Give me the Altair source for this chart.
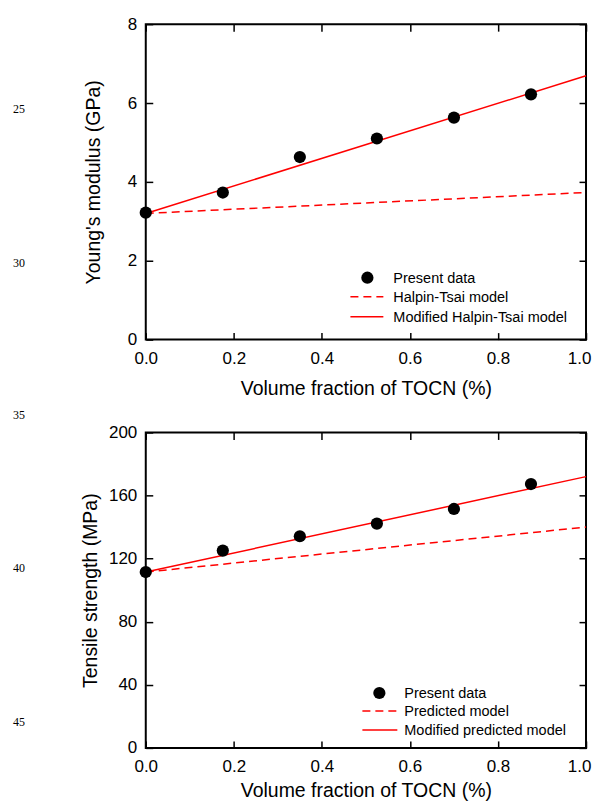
import altair as alt
import pandas as pd

# ---- data ----
tocn_fraction = [0.0, 0.175, 0.35, 0.525, 0.70, 0.875]
youngs_modulus = [3.22, 3.73, 4.63, 5.10, 5.63, 6.22]
tensile_strength = [111.5, 125.1, 134.2, 142.2, 151.5, 167.3]

model_x = [0.0, 1.0]
halpin_tsai = [3.20, 3.73]
modified_halpin_tsai = [3.20, 6.69]
predicted = [111.5, 140.0]
modified_predicted = [111.5, 172.0]

x_ticks = [0.0, 0.2, 0.4, 0.6, 0.8, 1.0]
y_ticks_top = [0, 2, 4, 6, 8]
y_ticks_bottom = [0, 40, 80, 120, 160, 200]

legend_top = ["Present data", "Halpin-Tsai model", "Modified Halpin-Tsai model"]
legend_bottom = ["Present data", "Predicted model", "Modified predicted model"]
line_numbers_top = ["25", "30"]
line_numbers_bottom = ["35", "40", "45"]

SANS = "Liberation Sans"
SERIF = "Liberation Serif"
W, H = 441, 316
RED = "#ff0000"
DASH = [8, 5]


def panel(yvals, model_a, model_b, ytitle, ydomain, yticks, legend_labels,
          sym_x, text_x, line_x1, line_x2, rows, ytitle_x, xtitle_y,
          line_nums, line_num_y):
    pts = pd.DataFrame({"x": tocn_fraction, "y": yvals})
    dashed = pd.DataFrame({"x": model_x, "y": model_a})
    solid = pd.DataFrame({"x": model_x, "y": model_b})

    xs = alt.Scale(domain=[0, 1], nice=False, zero=False)
    ys = alt.Scale(domain=ydomain, nice=False, zero=False)

    x_main = alt.Axis(orient="bottom", values=x_ticks, format=".1f",
                      title="Volume fraction of TOCN (%)", offset=-7, tickSize=7,
                      domain=False, labelPadding=11, labelFlush=False,
                      labelOverlap=False, titleX=W / 2, titleY=xtitle_y,
                      titleBaseline="middle",
                      labelOffset={"condition": {"test": "datum.value >= 0.99", "value": -7},
                                   "value": 0})
    y_main = alt.Axis(orient="left", values=yticks, format="d", title=ytitle,
                      offset=-7, tickSize=7, domain=False, labelPadding=9,
                      labelFlush=False, labelOverlap=False, titleX=ytitle_x,
                      titleY=H / 2, titleBaseline="middle")
    x_mirror = alt.Axis(orient="top", values=x_ticks, labels=False, title=None,
                        offset=-7, tickSize=7, domain=False)
    y_mirror = alt.Axis(orient="right", values=yticks, labels=False, title=None,
                        offset=-7, tickSize=7, domain=False)

    l_dash = alt.Chart(dashed).mark_line(color=RED, strokeWidth=1.5, strokeDash=DASH).encode(
        x=alt.X("x:Q", scale=xs, axis=x_main),
        y=alt.Y("y:Q", scale=ys, axis=y_main),
    )
    l_solid = alt.Chart(solid).mark_line(color=RED, strokeWidth=1.5).encode(
        x=alt.X("x:Q", scale=xs, axis=x_mirror),
        y=alt.Y("y:Q", scale=ys, axis=y_mirror),
    )
    l_pts = alt.Chart(pts).mark_point(filled=True, color="black", size=150, opacity=1).encode(
        x=alt.X("x:Q", scale=xs, axis=None),
        y=alt.Y("y:Q", scale=ys, axis=None),
    )

    one = pd.DataFrame({"k": [0]})
    leg = [
        alt.Chart(one).mark_point(filled=True, color="black", size=150, opacity=1).encode(
            x=alt.value(sym_x), y=alt.value(rows[0])),
        alt.Chart(one).mark_rule(color=RED, strokeWidth=1.5, strokeDash=DASH).encode(
            x=alt.value(line_x1), x2=alt.value(line_x2), y=alt.value(rows[1])),
        alt.Chart(one).mark_rule(color=RED, strokeWidth=1.5).encode(
            x=alt.value(line_x1), x2=alt.value(line_x2), y=alt.value(rows[2])),
    ]
    for lab, r in zip(legend_labels, rows):
        leg.append(
            alt.Chart(pd.DataFrame({"label": [lab]})).mark_text(
                align="left", baseline="middle", font=SANS, fontSize=14.5, color="black"
            ).encode(x=alt.value(text_x), y=alt.value(r + 1), text="label:N")
        )
    nums = []
    for n, yy in zip(line_nums, line_num_y):
        nums.append(
            alt.Chart(pd.DataFrame({"n": [n]})).mark_text(
                align="left", baseline="middle", font=SERIF, fontSize=12, color="black"
            ).encode(x=alt.value(-133), y=alt.value(yy), text="n:N")
        )

    return alt.layer(l_dash, l_solid, l_pts, *leg, *nums).resolve_axis(
        x="independent", y="independent"
    ).properties(width=W, height=H)


top = panel(youngs_modulus, halpin_tsai, modified_halpin_tsai, "Young's modulus (GPa)",
            [0, 8], y_ticks_top, legend_top,
            sym_x=222, text_x=248, line_x1=205, line_x2=238, rows=[254, 273, 293],
            ytitle_x=-59, xtitle_y=56, line_nums=line_numbers_top, line_num_y=[85, 239])
bottom = panel(tensile_strength, predicted, modified_predicted, "Tensile strength (MPa)",
               [0, 200], y_ticks_bottom, legend_bottom,
               sym_x=234, text_x=259, line_x1=217, line_x2=252, rows=[261, 279, 298],
               ytitle_x=-62, xtitle_y=50, line_nums=line_numbers_bottom,
               line_num_y=[-17, 136, 290])

chart = alt.vconcat(top, bottom, spacing=93, bounds="flush").properties(
    padding={"left": 4, "top": 5.5, "right": 0, "bottom": 0}
).configure_view(stroke="black", strokeWidth=2).configure_axis(
    grid=False, labelFont=SANS, titleFont=SANS, labelFontSize=17, titleFontSize=19.5,
    labelColor="black", titleColor="black", tickColor="black", tickWidth=1.5,
    titleFontWeight="normal",
)

chart.save("out.html", embed_options={"renderer": "svg", "actions": False})
